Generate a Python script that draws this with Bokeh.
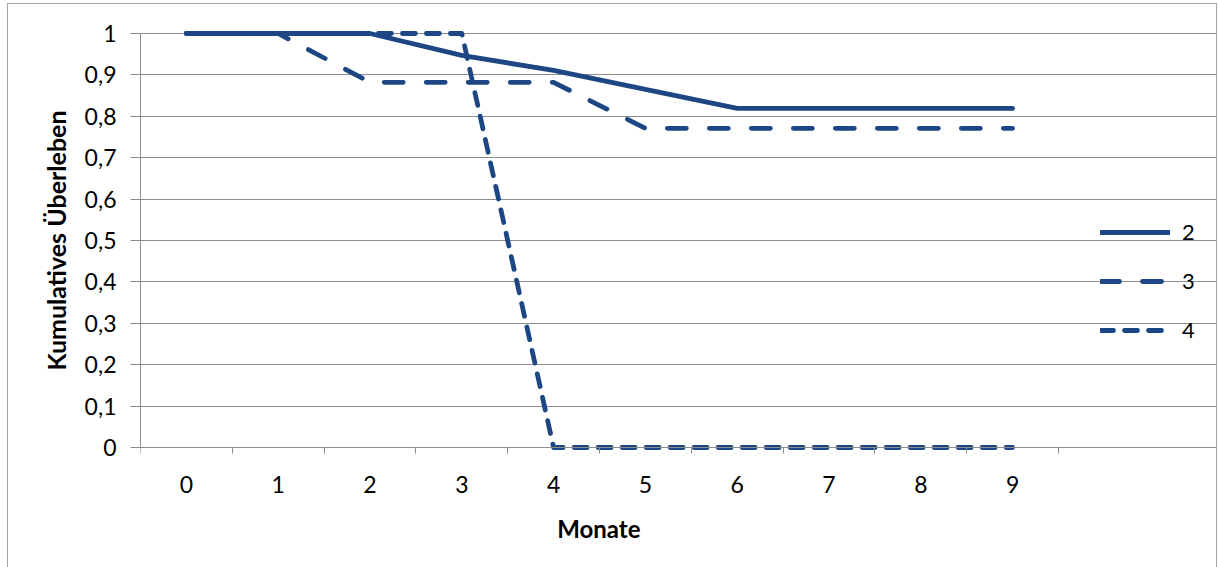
from bokeh.plotting import figure
from bokeh.models import (Range1d, FixedTicker, CustomJSTickFormatter, Legend,
                          LegendItem, LinearAxis, Title)
from bokeh.embed import file_html
from bokeh.resources import INLINE

# Kaplan-Meier style cumulative survival per group
monate = [0, 1, 2, 3, 4, 5, 6, 7, 8, 9]
gruppe_2 = [1.0, 1.0, 1.0, 0.947, 0.911, 0.865, 0.819, 0.819, 0.819, 0.819]
gruppe_3 = [1.0, 1.0, 0.882, 0.882, 0.882, 0.771, 0.771, 0.771, 0.771, 0.771]
gruppe_4 = [1.0, 1.0, 1.0, 1.0, 0.0, 0.0, 0.0, 0.0, 0.0, 0.0]
gruppen = ["2", "3", "4"]
y_ticks = [0.0, 0.1, 0.2, 0.3, 0.4, 0.5, 0.6, 0.7, 0.8, 0.9, 1.0]
x_boundaries = [-0.5, 0.5, 1.5, 2.5, 3.5, 4.5, 5.5, 6.5, 7.5, 8.5, 9.5]

LINE = "#1C4784"
GRID = "#8c8c8c"
FONT = "Lato"

# the frame runs on to the right edge so the legend sits inside it;
# grid and axis line keep to the category span
x_lo, x_hi = x_boundaries[0], x_boundaries[-1]
p = figure(width=1208, height=575, output_backend="svg", toolbar_location=None,
           x_range=Range1d(x_lo, 11.221), y_range=Range1d(-0.0145, 1.0145),
           min_border_left=132, min_border_right=0,
           min_border_top=23, min_border_bottom=126)
p.margin = (4, 0, 0, 8)
p.styles = {"outline": "1px solid #a6a6a6"}
p.outline_line_color = None
p.background_fill_color = "white"
p.border_fill_color = "white"

# month labels along the bottom
xa = p.xaxis[0]
xa.ticker = FixedTicker(ticks=monate, minor_ticks=[])
xa.axis_line_color = None
xa.major_tick_line_color = None
xa.minor_tick_line_color = None
xa.major_tick_out = 0
xa.major_tick_in = 0
xa.major_label_standoff = 22
xa.major_label_text_font = FONT
xa.major_label_text_font_size = "23px"
xa.major_label_text_color = "black"

# category axis line sitting on y = 0 with ticks between the months
x_line = LinearAxis(fixed_location=0,
                    ticker=FixedTicker(ticks=monate, minor_ticks=x_boundaries),
                    formatter=CustomJSTickFormatter(code="return '';"),
                    axis_line_color=GRID, major_tick_line_color=None,
                    major_tick_out=0, major_tick_in=0,
                    minor_tick_line_color=GRID, minor_tick_out=9,
                    minor_tick_in=0, major_label_text_font_size="1px",
                    major_label_standoff=0)
x_line.bounds = (x_lo, x_hi)
p.add_layout(x_line, "below")

# x axis title, centred under the categories (right edge offset from frame)
p.add_layout(Title(text="Monate", align="right", offset=576,
                   text_font=FONT, text_font_size="24px",
                   text_font_style="bold", text_color="black",
                   standoff=32), "below")

ya = p.yaxis[0]
ya.bounds = (0, 1)
ya.ticker = FixedTicker(ticks=y_ticks, minor_ticks=[])
ya.formatter = CustomJSTickFormatter(
    code="return (Math.round(tick * 10) / 10).toString().replace('.', ',');")
ya.axis_line_color = GRID
ya.major_tick_line_color = GRID
ya.major_tick_out = 10
ya.major_tick_in = 0
ya.minor_tick_line_color = None
ya.major_label_standoff = 14
ya.major_label_text_font = FONT
ya.major_label_text_font_size = "23px"
ya.major_label_text_color = "black"
ya.axis_label = "Kumulatives Überleben"
ya.axis_label_text_font = FONT
ya.axis_label_text_font_style = "bold"
ya.axis_label_text_font_size = "25px"
ya.axis_label_text_color = "black"
ya.axis_label_standoff = 11

p.xgrid.visible = False
p.ygrid.ticker = FixedTicker(ticks=y_ticks, minor_ticks=[])
p.ygrid.bounds = (x_lo, x_hi)
p.ygrid.grid_line_color = GRID
p.ygrid.grid_line_width = 1

r2 = p.line(monate, gruppe_2, line_color=LINE, line_width=4.8, line_join="round",
            line_cap="round")
r3 = p.line(monate, gruppe_3, line_color=LINE, line_width=4.8, line_join="round",
            line_cap="round", line_dash="19 23")
r4 = p.line(monate, gruppe_4, line_color=LINE, line_width=4.8, line_join="round",
            line_cap="round", line_dash="13 11")

legend = Legend(items=[LegendItem(label=gruppen[0], renderers=[r2]),
                       LegendItem(label=gruppen[1], renderers=[r3]),
                       LegendItem(label=gruppen[2], renderers=[r4])],
                location=(960, 110), glyph_width=70, glyph_height=26,
                label_height=26, label_standoff=12, spacing=22, padding=0,
                margin=0, border_line_color=None, background_fill_alpha=0,
                label_text_font=FONT, label_text_font_size="22px",
                label_text_color="black")
p.add_layout(legend, "center")

open("out.html", "w").write(file_html(p, INLINE))
